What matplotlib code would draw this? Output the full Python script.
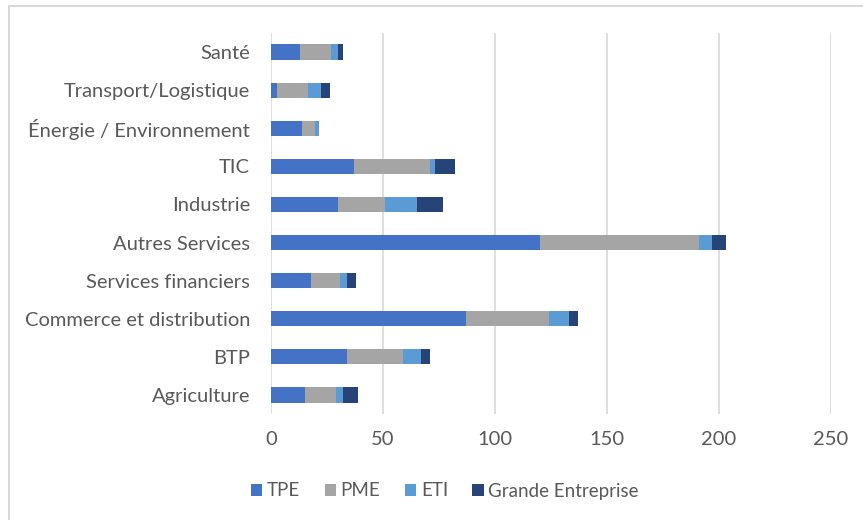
import matplotlib
matplotlib.use('Agg')
import matplotlib.pyplot as plt
import numpy as np
from matplotlib.patches import Rectangle

plt.rcParams['font.family'] = ['Lato', 'DejaVu Sans']

secteurs = ['Agriculture', 'BTP', 'Commerce et distribution', 'Services financiers',
            'Autres Services', 'Industrie', 'TIC', 'Énergie / Environnement',
            'Transport/Logistique', 'Santé']
tpe = [15, 34, 87, 18, 120, 30, 37, 14, 2.5, 13]
pme = [14, 25, 37, 13, 71, 21, 34, 5.5, 14, 14]
eti = [3, 8, 9, 3, 6, 14, 2, 2, 6, 3]
grande = [7, 4, 4, 4, 6, 12, 9, 0, 4, 2]

series = [('TPE', tpe, '#4472C4'), ('PME', pme, '#A5A5A5'),
          ('ETI', eti, '#5B9BD5'), ('Grande Entreprise', grande, '#264478')]

fig = plt.figure(figsize=(8.63, 5.2), dpi=100)
ax = fig.add_axes([271/863, 1 - 414/520, 560/863, 381/520])

y = np.arange(len(secteurs))
left = np.zeros(len(secteurs))
for name, vals, col in series:
    ax.barh(y, vals, left=left, height=0.4, color=col, label=name, zorder=3)
    left += np.array(vals)

ax.set_xlim(0, 250)
ax.set_ylim(-0.5, len(secteurs) - 0.5)
ax.set_xticks([0, 50, 100, 150, 200, 250])
ax.set_yticks(y)
ax.set_yticklabels(secteurs)
ax.grid(axis='x', color='#D9D9D9', linewidth=1.2, zorder=0)
for s in ax.spines.values():
    s.set_visible(False)
ax.tick_params(length=0, labelsize=14.5, colors='#595959')
ax.tick_params(axis='y', pad=15)
ax.tick_params(axis='x', pad=12)

ax.legend(loc='center', bbox_to_anchor=(0.5 * (250 + 640) / 863, 1 - 491/520),
          bbox_transform=fig.transFigure, ncol=4, frameon=False, fontsize=13.5,
          labelcolor='#595959', handlelength=0.6, handleheight=0.6,
          handletextpad=0.25, columnspacing=1.3)

# chart border (only top/left visible)
fig.patches.append(Rectangle((9/863, -0.1), 1.2, 1 - 6/520 + 0.1, transform=fig.transFigure,
                             fill=False, edgecolor='#D9D9D9', linewidth=1.5))

fig.savefig('out.png', dpi=100)
